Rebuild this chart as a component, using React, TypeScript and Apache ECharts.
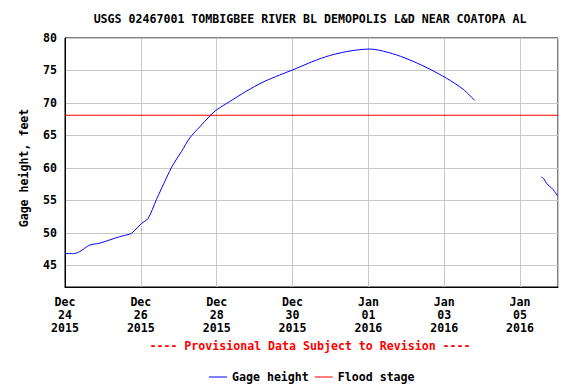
import React, { useEffect, useRef } from "react";
import * as echarts from "echarts";

const titleText = "USGS 02467001 TOMBIGBEE RIVER BL DEMOPOLIS L&D NEAR COATOPA AL";
const yAxisTitle = "Gage height, feet";
const noteText = "---- Provisional Data Subject to Revision ----";

// x values are days since Dec 24 2015 00:00
const tickLabels = [
  "Dec\n24\n2015",
  "Dec\n26\n2015",
  "Dec\n28\n2015",
  "Dec\n30\n2015",
  "Jan\n01\n2016",
  "Jan\n03\n2016",
  "Jan\n05\n2016",
];

const gageDays1 = [
  0, 0.23, 0.39, 0.65, 0.92, 1.18, 1.44, 1.71, 1.79, 2.01, 2.19, 2.41, 2.67, 2.85,
  3.07, 3.29, 3.55, 3.82, 3.99, 4.34, 4.78, 5.22, 5.66, 6.01, 6.54, 6.98, 7.42,
  7.77, 8.04, 8.3, 8.74, 9.18, 9.62, 10.06, 10.5, 10.8,
];
const gageHeights1 = [
  46.8, 46.8, 47.1, 48.1, 48.4, 48.9, 49.4, 49.8, 50.1, 51.4, 52.2, 55.1, 58.4, 60.5,
  62.5, 64.6, 66.3, 68.0, 68.9, 70.2, 71.8, 73.2, 74.3, 75.1, 76.4, 77.3, 77.9,
  78.2, 78.3, 78.1, 77.4, 76.4, 75.2, 73.8, 72.1, 70.4,
];
const gageDays2 = [12.56, 12.63, 12.7, 12.83, 12.91, 12.98];
const gageHeights2 = [58.6, 58.3, 57.6, 56.9, 56.35, 55.7];

const floodStage = 68.1;
const xMin = 0;
const xMax = 13;
const yMin = 41.65;
const yMax = 80;

const FONT = "'DejaVu Sans Mono', 'Liberation Mono', monospace";

export default function App() {
  const ref = useRef<HTMLDivElement>(null);

  useEffect(() => {
    if (!ref.current) return;
    const chart = echarts.init(ref.current, null, { renderer: "svg" });

    const gageData: any[] = [];
    gageDays1.forEach((d, i) => gageData.push([d, gageHeights1[i]]));
    gageData.push([11.7, "-"]);
    gageDays2.forEach((d, i) => gageData.push([d, gageHeights2[i]]));

    const textBase = { fontFamily: FONT, fontWeight: "bold", fontSize: 11.6, color: "#000" };

    chart.setOption({
      animation: false,
      backgroundColor: "#fff",
      grid: {
        left: 65,
        right: 18,
        top: 38,
        bottom: 97,
        show: true,
        borderColor: "#000",
        borderWidth: 1,
        containLabel: false,
      },
      legend: {
        left: 204,
        top: 366,
        icon: "rect",
        itemWidth: 18,
        itemHeight: 1,
        itemGap: 6,
        textStyle: { ...textBase },
        data: ["Gage height", "Flood stage"],
      },
      xAxis: {
        type: "value",
        min: xMin,
        max: xMax,
        interval: 2,
        axisLine: { show: true, lineStyle: { color: "#000", width: 1 } },
        axisTick: { show: false },
        splitLine: { show: true, lineStyle: { color: "#c8c8c8", width: 1 } },
        axisLabel: {
          ...textBase,
          margin: 8,
          lineHeight: 13,
          showMaxLabel: false,
          formatter: (v: number) => {
            const idx = Math.round(v / 2);
            if (Math.abs(v - idx * 2) > 1e-6) return "";
            return tickLabels[idx] ?? "";
          },
        },
      },
      yAxis: {
        type: "value",
        min: yMin,
        max: yMax,
        splitNumber: 8,
        minInterval: 5,
        maxInterval: 5,
        axisLine: { show: true, lineStyle: { color: "#000", width: 1 } },
        axisTick: { show: false },
        splitLine: { show: true, lineStyle: { color: "#c8c8c8", width: 1 } },
        axisLabel: {
          ...textBase,
          margin: 8,
          formatter: (v: number) => (Math.abs(v % 5) < 1e-6 ? String(v) : ""),
        },
      },
      graphic: [
        {
          type: "text",
          x: 310,
          y: 19,
          style: { text: titleText, fill: "#000", align: "center", verticalAlign: "middle", font: `bold 11.6px ${FONT}` },
        },
        {
          type: "text",
          x: 24,
          y: 168,
          rotation: Math.PI / 2,
          style: { text: yAxisTitle, fill: "#000", align: "center", verticalAlign: "middle", font: `bold 11.6px ${FONT}` },
        },
        {
          type: "text",
          x: 310,
          y: 346,
          style: { text: noteText, fill: "#ff0000", align: "center", verticalAlign: "middle", font: `bold 11.6px ${FONT}` },
        },
      ],
      series: [
        {
          name: "Gage height",
          type: "line",
          data: gageData,
          showSymbol: false,
          symbol: "none",
          connectNulls: false,
          smooth: 0.3,
          color: "#0000ff",
          lineStyle: { color: "#0000ff", width: 1 },
          z: 3,
        },
        {
          name: "Flood stage",
          type: "line",
          data: [
            [xMin, floodStage],
            [xMax, floodStage],
          ],
          showSymbol: false,
          symbol: "none",
          color: "#ff0000",
          lineStyle: { color: "#ff0000", width: 1 },
          z: 2,
        },
      ],
    });

    return () => chart.dispose();
  }, []);

  return <div ref={ref} style={{ width: 576, height: 384, position: "absolute", left: 0, top: 0 }} />;
}
